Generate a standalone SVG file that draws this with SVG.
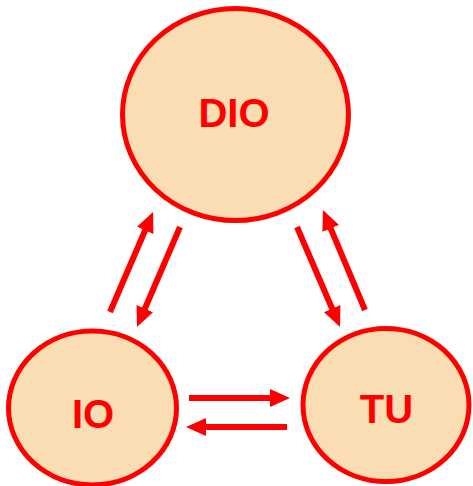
<svg xmlns="http://www.w3.org/2000/svg" width="473" height="486" viewBox="0 0 473 486">
  <style>
    .node ellipse { fill: #FBDDB3; stroke: #FF0000; stroke-width: 5; }
    .node text { font-family: "Liberation Sans", Arial, sans-serif; font-weight: bold; font-size: 40px; fill: #FF0000; text-anchor: middle; }
    .conn line { stroke: #FF0000; stroke-width: 6; marker-end: url(#head); }
  </style>
  <defs>
    <marker id="head" markerUnits="userSpaceOnUse" viewBox="0 0 20 18" markerWidth="20" markerHeight="18" refX="8" refY="9" orient="auto">
      <path d="M0,0 L20,9 L0,18 z" fill="#FF0000"/>
    </marker>
  </defs>
  <rect width="473" height="486" fill="#FFFFFF"/>
  <g id="node-dio" class="node">
    <ellipse cx="235.5" cy="114.5" rx="113" ry="106"/>
    <text x="234" y="127">DIO</text>
  </g>
  <g id="node-io" class="node">
    <ellipse cx="92.5" cy="408" rx="84" ry="77"/>
    <text x="93" y="428">IO</text>
  </g>
  <g id="node-tu" class="node">
    <ellipse cx="386" cy="405" rx="83" ry="76.5"/>
    <text x="386.5" y="423">TU</text>
  </g>
  <g id="connectors" class="conn">
    <line x1="110" y1="312" x2="148.3" y2="223"/>
    <line x1="180" y1="227" x2="141.7" y2="316"/>
    <line x1="297" y1="227" x2="335.3" y2="316"/>
    <line x1="365" y1="310" x2="327.6" y2="221.1"/>
    <line x1="189" y1="398" x2="278" y2="398"/>
    <line x1="287" y1="427" x2="198" y2="427"/>
  </g>
</svg>
